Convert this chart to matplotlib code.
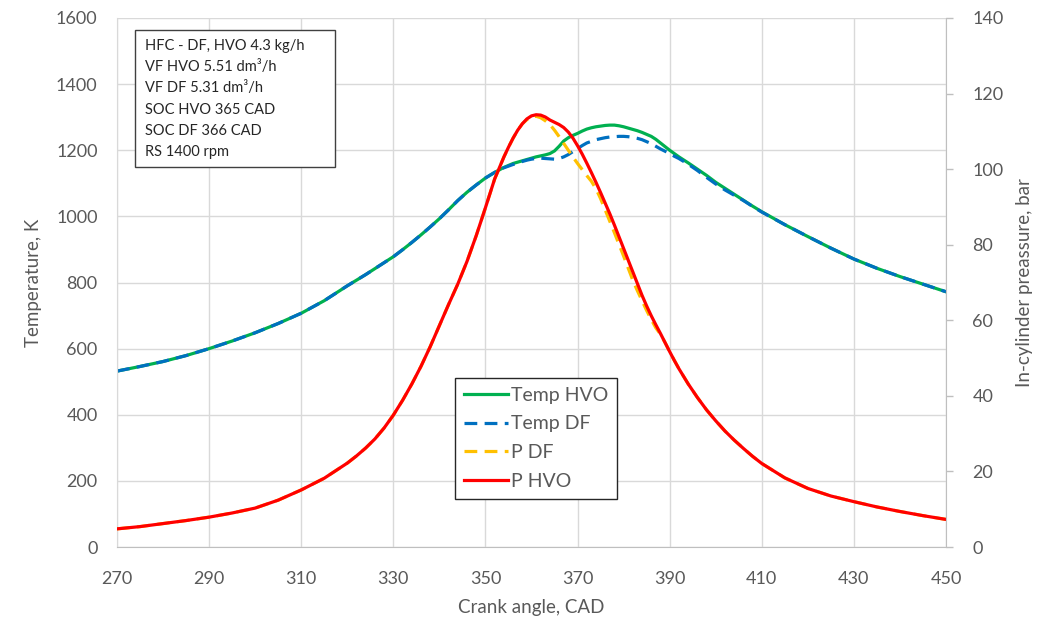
import matplotlib
matplotlib.use('Agg')
import matplotlib.pyplot as plt
from matplotlib.patches import Rectangle

plt.rcParams['font.family'] = ['Lato', 'DejaVu Sans']

# crank angle, CAD
ca = ([270, 275, 280, 285, 290, 295, 300, 305, 310, 315]
      + list(range(320, 355, 2))
      + list(range(355, 393))
      + list(range(394, 411, 2))
      + [415, 420, 425, 430, 435, 440, 445, 450])

# temperature, K
temp_hvo = [532, 546, 561, 579, 600, 623, 648, 676, 707, 745,
            790, 807, 824, 842, 860, 878, 899, 921, 944, 968, 993, 1020, 1048, 1073, 1095, 1116, 1133, 1148,
            1154, 1160, 1164, 1168, 1172, 1176, 1180, 1183, 1186, 1190, 1198, 1212, 1228, 1238, 1245, 1251,
            1258, 1264, 1268, 1271, 1273, 1275, 1276, 1276, 1274, 1271, 1267, 1263, 1259, 1254, 1248, 1242,
            1233, 1222, 1211, 1200, 1190, 1180,
            1162, 1143, 1124, 1103, 1085, 1067, 1049, 1031, 1014,
            975, 939, 904, 871, 843, 818, 795, 772]
temp_df = [532, 546, 561, 579, 600, 623, 648, 676, 707, 745,
           790, 807, 824, 842, 860, 878, 899, 921, 944, 968, 993, 1020, 1048, 1073, 1095, 1116, 1133, 1147,
           1152, 1157, 1161, 1166, 1170, 1173, 1175, 1176, 1175, 1174, 1173, 1175, 1180, 1187, 1196, 1205,
           1214, 1222, 1227, 1232, 1235, 1238, 1240, 1241, 1242, 1242, 1241, 1239, 1236, 1232, 1226, 1220,
           1212, 1204, 1197, 1190, 1182, 1175,
           1158, 1139, 1118, 1098, 1080, 1064, 1048, 1030, 1013,
           975, 939, 904, 871, 843, 818, 795, 772]

# in-cylinder pressure, bar
p_hvo = [4.8, 5.4, 6.2, 7.0, 7.9, 9.0, 10.3, 12.4, 15.1, 18.2,
         22.2, 24.1, 26.2, 28.6, 31.5, 34.9, 38.8, 43.1, 47.8, 53.0, 58.6, 64.2, 69.6, 75.6, 82.4, 89.8, 97.4, 103.2,
         105.8, 108.2, 110.3, 112.0, 113.3, 114.1, 114.4, 114.3, 113.8, 113.0, 112.4, 111.8, 111.0, 109.8, 108.2, 106.2,
         104.0, 101.6, 99.1, 96.5, 93.8, 91.0, 88.2, 85.2, 82.1, 79.0, 75.9, 72.8, 69.7, 66.6, 63.8, 61.2,
         58.8, 56.5, 54.1, 51.7, 49.4, 47.2,
         43.2, 39.6, 36.3, 33.4, 30.7, 28.3, 26.1, 24.0, 22.1,
         18.3, 15.5, 13.5, 12.0, 10.6, 9.4, 8.3, 7.3]
p_df = [4.8, 5.4, 6.2, 7.0, 7.9, 9.0, 10.3, 12.4, 15.1, 18.2,
        22.2, 24.1, 26.2, 28.6, 31.5, 34.9, 38.8, 43.1, 47.8, 53.0, 58.6, 64.2, 69.6, 75.6, 82.4, 89.8, 97.4, 103.2,
        105.8, 108.2, 110.3, 112.0, 113.1, 113.8, 114.0, 113.6, 112.8, 111.8, 110.3, 108.6, 106.8, 105.0, 103.2, 101.5,
        99.9, 98.3, 96.8, 94.8, 92.2, 89.2, 86.2, 83.2, 80.1, 77.0, 73.8, 70.6, 67.8, 65.2, 62.6, 60.2,
        58.0, 56.3, 54.1, 51.7, 49.4, 47.2,
        43.2, 39.6, 36.3, 33.4, 30.7, 28.3, 26.1, 24.0, 22.1,
        18.3, 15.5, 13.5, 12.0, 10.6, 9.4, 8.3, 7.3]

x_ticks = list(range(270, 451, 20))
t_ticks = list(range(0, 1601, 200))
p_ticks = list(range(0, 141, 20))

info_lines = ['HFC - DF, HVO 4.3 kg/h', 'VF HVO 5.51 dm³/h', 'VF DF 5.31 dm³/h',
              'SOC HVO 365 CAD', 'SOC DF 366 CAD', 'RS 1400 rpm']

GRAY = '#595959'
GRID = '#D9D9D9'
DASH = (0, (4, 2.3))

fig = plt.figure(figsize=(10.48, 6.22), dpi=100)
ax = fig.add_axes([117/1048, 1 - 547/622, 829/1048, 529/622])
ax2 = ax.twinx()

style = dict(lw=2.3, solid_joinstyle='round', dash_joinstyle='round')
l1, = ax.plot(ca, temp_hvo, color='#00B050', label='Temp HVO', **style)
l2, = ax.plot(ca, temp_df, color='#0070C0', ls=DASH, label='Temp DF', **style)
l3, = ax2.plot(ca, p_df, color='#FFC000', ls=DASH, label='P DF', **style)
l4, = ax2.plot(ca, p_hvo, color='#FF0000', label='P HVO', **style)

ax.set_xlim(270, 450)
ax.set_ylim(0, 1600)
ax2.set_ylim(0, 140)
ax.set_xticks(x_ticks)
ax.set_yticks(t_ticks)
ax2.set_yticks(p_ticks)

ax.grid(True, color=GRID, lw=1)
ax.set_axisbelow(True)
for a in (ax, ax2):
    for s in a.spines.values():
        s.set_visible(False)
ax.spines['bottom'].set_visible(True)
ax.spines['bottom'].set_color('#BFBFBF')
ax.spines['left'].set_visible(True)
ax.spines['left'].set_color(GRID)
ax2.spines['right'].set_visible(True)
ax2.spines['right'].set_color('#BFBFBF')

ax.tick_params(axis='x', length=0, pad=17, labelsize=13, labelcolor=GRAY)
ax.tick_params(axis='y', length=0, pad=14, labelsize=13, labelcolor=GRAY)
ax2.tick_params(axis='y', length=5, width=1, color='#BFBFBF', direction='out',
                pad=14, labelsize=13, labelcolor=GRAY)

ax.set_xlabel('Crank angle, CAD', fontsize=13.5, color=GRAY)
ax.set_ylabel('Temperature, K', fontsize=13.5, color=GRAY)
ax2.set_ylabel('In-cylinder preassure, bar', fontsize=13.5, color=GRAY)
ax.xaxis.set_label_coords(0.5, -0.098)
ax.yaxis.set_label_coords(-0.09, 0.5)
ax2.yaxis.set_label_coords(1.085, 0.5)

# info box
fig.patches.append(Rectangle((135/1048, 1 - 167/622), 200/1048, 137/622,
                             transform=fig.transFigure, facecolor='white',
                             edgecolor='#404040', lw=1, zorder=5))
for i, t in enumerate(info_lines):
    fig.text(145/1048, 1 - (46 + i * 21.2)/622, t, fontsize=10.5, color='#262626',
             ha='left', va='center', zorder=6)

leg = ax2.legend(handles=[l1, l2, l3, l4], loc='upper left',
                 bbox_to_anchor=(455/1048, 1 - 378/622), bbox_transform=fig.transFigure,
                 fontsize=14, frameon=True, fancybox=False, framealpha=1,
                 edgecolor='#262626', handlelength=2.3, handletextpad=0.15,
                 labelspacing=0.6, borderpad=0.45, borderaxespad=0)
leg.get_frame().set_linewidth(1)
for t in leg.get_texts():
    t.set_color(GRAY)

fig.savefig('out.png', dpi=100, facecolor='white')
